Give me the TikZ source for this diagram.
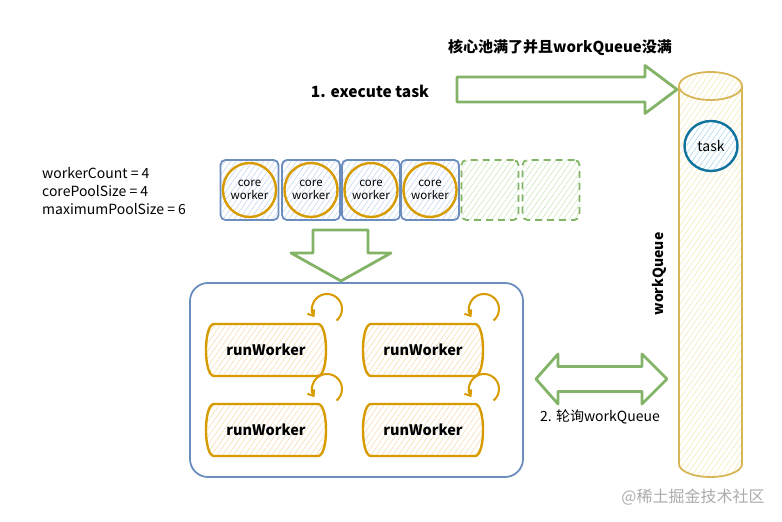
\documentclass[tikz,border=0pt]{standalone}
\usepackage{fontspec}
\setmainfont{Noto Sans CJK SC}
\usetikzlibrary{patterns.meta,arrows.meta,calc,shapes.geometric}
\definecolor{grn}{HTML}{82B366}
\definecolor{grnhatch}{HTML}{C5E3B5}
\definecolor{blu}{HTML}{6C8EBF}
\definecolor{bluhatch}{HTML}{BCD2EE}
\definecolor{org}{HTML}{D79B00}
\definecolor{orghatch}{HTML}{F3D9A8}
\definecolor{ylw}{HTML}{D6B656}
\definecolor{ylwhatch}{HTML}{F5E8B0}
\definecolor{tsk}{HTML}{10739E}
\definecolor{tskhatch}{HTML}{A6D3EA}
\definecolor{wm}{HTML}{ABABAB}
\newcommand{\fsz}[1]{\fontsize{#1}{#1}\selectfont}
\begin{document}
\begin{tikzpicture}[x=1pt,y=1pt,
  hatch/.style={pattern={Lines[angle=55,distance=4.5pt,line width=0.5pt]},pattern color=#1},
  slot/.style={draw=blu,line width=1.8pt,rounded corners=5pt,minimum width=58pt,minimum height=60pt,inner sep=0pt,preaction={hatch=bluhatch}},
  freeslot/.style={draw=grn,line width=1.8pt,dash pattern=on 7pt off 5pt,rounded corners=5pt,minimum width=57pt,minimum height=60pt,inner sep=0pt,preaction={hatch=grnhatch}},
  coreworker/.style={ellipse,draw=org,line width=2.4pt,minimum width=50pt,minimum height=54pt,inner sep=0pt,align=center,font=\fontsize{11.5}{13.5}\selectfont},
  blockarrow/.style={draw=grn,line width=2.8pt,line join=round,fill=white},
  rwline/.style={draw=org,line width=2.4pt,line join=round,preaction={hatch=orghatch}},
  rwtext/.style={font=\bfseries\fsz{14.5},inner sep=0pt},
  loopar/.style={draw=org,line width=2pt,-{Straight Barb[length=5pt,width=8pt]}},
  lbl/.style={inner sep=0pt}
]
\useasboundingbox (0,0) rectangle (782,522);

% labels at top
\node[lbl,font=\bfseries\fsz{15}] (cond) at (560,474) {核心池满了并且workQueue没满};
\node[lbl,font=\bfseries\fsz{15.5}] (exec) at (370,431) {1. execute task};

% green right arrow
\draw[blockarrow] (457,420) -- (645,420) -- (645,408.5) -- (677,432.5) -- (645,456.5) -- (645,445) -- (457,445) -- cycle;

% cylinder workQueue
\path[fill=white] (679,436) -- (679,58) arc[start angle=180,end angle=360,x radius=31.5,y radius=13] -- (742,436) arc[start angle=0,end angle=180,x radius=31.5,y radius=14] -- cycle;
\path[hatch=ylwhatch] (679,436) -- (679,58) arc[start angle=180,end angle=360,x radius=31.5,y radius=13] -- (742,436) arc[start angle=0,end angle=180,x radius=31.5,y radius=14] -- cycle;
\draw[draw=ylw,line width=1.8pt,line join=round] (679,436) -- (679,58) arc[start angle=180,end angle=360,x radius=31.5,y radius=13] -- (742,436) arc[start angle=0,end angle=180,x radius=31.5,y radius=14] -- cycle;
\draw[draw=ylw,line width=1.8pt] (679,436) arc[start angle=180,end angle=360,x radius=31.5,y radius=14];
\node[ellipse,draw=tsk,line width=2.4pt,minimum width=53pt,minimum height=50pt,inner sep=0pt,preaction={fill=white},preaction={hatch=tskhatch},font=\fsz{14}] (task) at (711,376) {task};
\node[lbl,rotate=90,font=\bfseries\fsz{14}] (wq) at (659,248) {workQueue};

% variables
\node[lbl,anchor=west,align=left,font=\fontsize{14}{18}\selectfont] (vars) at (42,331) {workerCount = 4\\corePoolSize = 4\\maximumPoolSize = 6};

% worker slots
\node[slot] (s1) at (249.5,332) {};
\node[slot] (s2) at (311,332) {};
\node[slot] (s3) at (371,332) {};
\node[slot] (s4) at (430,332) {};
\node[freeslot] (s5) at (490,332) {};
\node[freeslot] (s6) at (551,332) {};
\node[coreworker] (c1) at (s1) {core\\worker};
\node[coreworker] (c2) at (s2) {core\\worker};
\node[coreworker] (c3) at (s3) {core\\worker};
\node[coreworker] (c4) at (s4) {core\\worker};

% green down arrow
\draw[blockarrow] (313,292) -- (368,292) -- (368,269) -- (391,269) -- (341,241) -- (291,269) -- (313,269) -- cycle;

% thread pool box
\node[draw=blu,line width=1.8pt,rounded corners=18pt,minimum width=333pt,minimum height=194pt,inner sep=0pt] (pool) at (356.5,142) {};

% runWorker shapes
\foreach \n/\cx/\cy in {r1/266/172, r2/423/172, r3/266/92, r4/423/92}{
  \coordinate (\n c) at (\cx,\cy);
  \begin{scope}[shift={(\n c)}]
    \path[rwline] (-52,26) -- (52,26) .. controls (62.7,26) and (62.7,-26) .. (52,-26) -- (-52,-26) .. controls (-62.7,-26) and (-62.7,26) .. cycle;
  \end{scope}
  \node[rwtext] (\n) at (\n c) {runWorker};
  \coordinate (\n l) at ($(\n c)+(61,41)$);
  \draw[loopar] ($(\n l)+(-50:15)$) arc[start angle=-50,end angle=213,radius=15];
}

% double arrow
\draw[blockarrow] (536,143) -- (558,168) -- (558,155.5) -- (642,155.5) -- (642,168) -- (667,143) -- (642,118) -- (642,130.5) -- (558,130.5) -- (558,118) -- cycle;
\node[lbl,font=\fsz{14}] (poll) at (600,105) {2. 轮询workQueue};

% watermark
\node[lbl,font=\fsz{16},text=wm] (wmk) at (693,25) {@稀土掘金技术社区};
\end{tikzpicture}
\end{document}
